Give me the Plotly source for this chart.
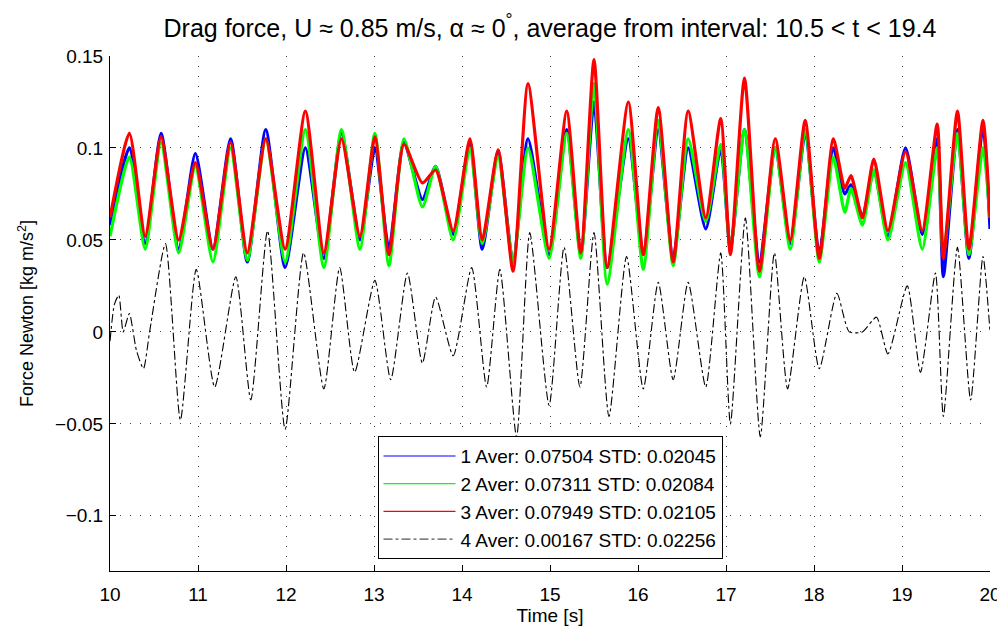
import plotly.graph_objects as go

# ---- data ----
T_COLOR = [10.00, 10.22, 10.40, 10.58, 10.78, 10.97, 11.17, 11.37, 11.56, 11.77,
           11.99, 12.22, 12.43, 12.63, 12.84, 13.01, 13.17, 13.34, 13.55, 13.70,
           13.90, 14.09, 14.23, 14.41, 14.58, 14.75, 14.99, 15.19, 15.35, 15.50,
           15.65, 15.89, 16.06, 16.23, 16.40, 16.57, 16.77, 16.94, 17.05, 17.21,
           17.38, 17.56, 17.73, 17.90, 18.06, 18.22, 18.35, 18.42, 18.55, 18.68,
           18.84, 19.04, 19.23, 19.40, 19.47, 19.63, 19.76, 19.92, 20.00]

S1_BLUE = [0.058, 0.100, 0.048, 0.108, 0.045, 0.097, 0.045, 0.105, 0.038, 0.110,
           0.035, 0.100, 0.040, 0.108, 0.050, 0.100, 0.045, 0.103, 0.072, 0.090,
           0.053, 0.103, 0.045, 0.098, 0.038, 0.105, 0.042, 0.110, 0.042, 0.125,
           0.035, 0.105, 0.042, 0.110, 0.040, 0.100, 0.056, 0.100, 0.045, 0.110,
           0.038, 0.100, 0.048, 0.108, 0.042, 0.100, 0.075, 0.080, 0.063, 0.088,
           0.052, 0.100, 0.053, 0.105, 0.030, 0.110, 0.040, 0.112, 0.056]

S2_GREEN = [0.052, 0.095, 0.045, 0.103, 0.043, 0.090, 0.038, 0.100, 0.039, 0.105,
            0.038, 0.110, 0.035, 0.110, 0.045, 0.108, 0.036, 0.105, 0.068, 0.090,
            0.050, 0.100, 0.048, 0.095, 0.038, 0.100, 0.040, 0.108, 0.040, 0.135,
            0.026, 0.110, 0.034, 0.115, 0.036, 0.105, 0.060, 0.102, 0.045, 0.110,
            0.030, 0.100, 0.045, 0.110, 0.038, 0.095, 0.065, 0.078, 0.058, 0.088,
            0.050, 0.092, 0.045, 0.100, 0.042, 0.108, 0.042, 0.100, 0.062]

S3_RED = [0.062, 0.108, 0.052, 0.106, 0.050, 0.092, 0.045, 0.103, 0.043, 0.105,
          0.045, 0.120, 0.043, 0.105, 0.052, 0.106, 0.042, 0.102, 0.081, 0.088,
          0.055, 0.105, 0.050, 0.099, 0.033, 0.135, 0.045, 0.120, 0.043, 0.148,
          0.035, 0.125, 0.042, 0.122, 0.038, 0.120, 0.062, 0.116, 0.042, 0.138,
          0.033, 0.105, 0.050, 0.115, 0.040, 0.105, 0.078, 0.085, 0.062, 0.094,
          0.055, 0.098, 0.055, 0.113, 0.040, 0.120, 0.045, 0.115, 0.062]

T_BLACK = [10.00, 10.05, 10.10, 10.15, 10.22, 10.30, 10.38, 10.45, 10.63, 10.80,
           10.98, 11.19, 11.43, 11.60, 11.79, 11.99, 12.20, 12.43, 12.61, 12.78,
           13.01, 13.19, 13.38, 13.55, 13.70, 13.90, 14.11, 14.28, 14.43, 14.62,
           14.77, 14.99, 15.16, 15.34, 15.50, 15.67, 15.87, 16.06, 16.23, 16.40,
           16.57, 16.77, 16.94, 17.05, 17.22, 17.39, 17.55, 17.70, 17.89, 18.06,
           18.26, 18.40, 18.55, 18.71, 18.84, 19.06, 19.21, 19.38, 19.47, 19.63,
           19.78, 19.92, 20.00]

S4_BLACK = [-0.005, 0.015, 0.020, 0.000, 0.010, -0.010, -0.020, 0.000, 0.048, -0.048,
            0.034, -0.030, 0.030, -0.037, 0.055, -0.053, 0.043, -0.031, 0.035, -0.022,
            0.028, -0.026, 0.032, -0.017, 0.019, -0.013, 0.035, -0.030, 0.034, -0.057,
            0.054, -0.040, 0.046, -0.030, 0.054, -0.046, 0.041, -0.031, 0.027, -0.026,
            0.027, -0.030, 0.043, -0.050, 0.062, -0.057, 0.043, -0.031, 0.030, -0.020,
            0.021, 0.000, 0.000, 0.008, -0.012, 0.025, -0.022, 0.032, -0.046, 0.046,
            -0.037, 0.041, 0.000]

LEGEND_NAMES = ["1 Aver: 0.07504 STD: 0.02045",
                "2 Aver: 0.07311 STD: 0.02084",
                "3 Aver: 0.07949 STD: 0.02105",
                "4 Aver: 0.00167 STD: 0.02256"]

Y_TICKS = [0.15, 0.1, 0.05, 0, -0.05, -0.1]
Y_TICKTEXT = ["0.15", "0.1", "0.05", "0", "\u22120.05", "\u22120.1"]
X_TICKS = [10, 11, 12, 13, 14, 15, 16, 17, 18, 19, 20]

FONT = "Liberation Sans, Arial, Helvetica, sans-serif"
COLORS = ["#0000ff", "#00ff00", "#ff0000", "#000000"]

fig = go.Figure()
series = [(T_COLOR, S1_BLUE), (T_COLOR, S2_GREEN), (T_COLOR, S3_RED)]
for (tx, vy), col in zip(series, COLORS[:3]):
    fig.add_trace(go.Scatter(x=tx, y=vy, mode="lines", showlegend=False,
                             line=dict(color=col, width=3.2, shape="spline", smoothing=0.6)))
fig.add_trace(go.Scatter(x=T_BLACK, y=S4_BLACK, mode="lines", showlegend=False,
                         line=dict(color="#000000", width=1.1, dash="dashdot",
                                   shape="spline", smoothing=0.6)))

# legend entries with thin sample lines (as in the reference)
for i, name in enumerate(LEGEND_NAMES):
    fig.add_trace(go.Scatter(x=[None], y=[None], mode="lines", name=name,
                             line=dict(color=COLORS[i] if i < 3 else "#555555", width=1.2,
                                       dash="solid" if i < 3 else "dashdot")))

axis_common = dict(showline=True, linecolor="black", linewidth=1, mirror=False,
                   ticks="inside", ticklen=6, tickcolor="black",
                   showgrid=True, gridcolor="#444444", griddash="1px,9px", gridwidth=1,
                   zeroline=False, automargin=False,
                   tickfont=dict(size=19, color="black", family=FONT))

fig.update_xaxes(range=[10, 20], tickvals=X_TICKS, ticklabelstandoff=6,
                 title=dict(text="Time [s]", font=dict(size=19, color="black", family=FONT),
                            standoff=2),
                 **axis_common)
fig.update_yaxes(range=[-0.13, 0.15], tickvals=Y_TICKS, ticktext=Y_TICKTEXT,
                 ticklabelstandoff=2,
                 title=dict(text="Force Newton [kg m/s<sup>2</sup>]",
                            font=dict(size=18, color="black", family=FONT), standoff=16),
                 **axis_common)

# the page body has an 8px margin, so the figure is 8px smaller than the window
fig.update_layout(
    width=997, height=620,
    paper_bgcolor="white", plot_bgcolor="white",
    margin=dict(l=102, r=15, t=48, b=57),
    font=dict(family=FONT, color="black"),
    title=dict(text="Drag force, U \u2248 0.85 m/s, \u03b1 \u2248 0<sup>\u00b0</sup>, "
                    "average from interval: 10.5 &lt; t &lt; 19.4",
               x=0.5436, xanchor="center", y=0.968, yanchor="middle",
               font=dict(size=25, color="black", family=FONT)),
    legend=dict(x=0.5, xanchor="center", y=0.023, yanchor="bottom",
                bgcolor="white", bordercolor="black", borderwidth=1,
                font=dict(size=19, color="black", family=FONT),
                itemwidth=72, tracegroupgap=0),
    showlegend=True,
)

fig.write_html("out.html")
